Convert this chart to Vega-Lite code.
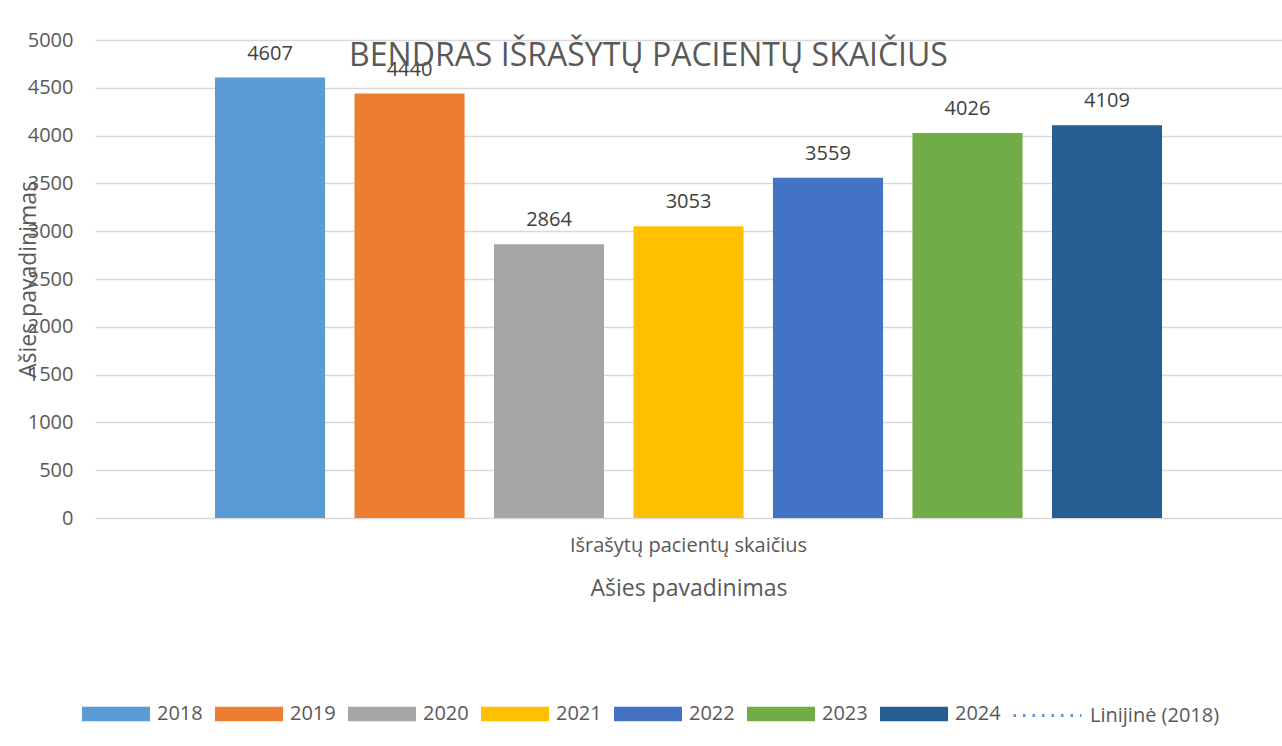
{
  "$schema": "https://vega.github.io/schema/vega-lite/v6.json",
  "autosize": "none",
  "width": 1187,
  "height": 478,
  "padding": {"left": 95, "top": 40, "right": 0, "bottom": 228},
  "background": "white",
  "config": {
    "font": "Open Sans",
    "view": {"stroke": null},
    "axis": {"labelColor": "#595959", "titleColor": "#595959", "labelFont": "Open Sans", "titleFont": "Open Sans", "titleFontWeight": "normal"},
    "legend": {"labelColor": "#595959", "labelFont": "Open Sans"}
  },
  "title": {
    "text": "BENDRAS IŠRAŠYTŲ PACIENTŲ SKAIČIUS",
    "fontSize": 32,
    "fontWeight": "normal",
    "color": "#595959",
    "anchor": "middle",
    "frame": "group",
    "dx": -40,
    "baseline": "alphabetic",
    "offset": -68
  },
  "data": {
    "values": [
      {"kategorija": "Išrašytų pacientų skaičius", "metai": "2018", "reiksme": 4607},
      {"kategorija": "Išrašytų pacientų skaičius", "metai": "2019", "reiksme": 4440},
      {"kategorija": "Išrašytų pacientų skaičius", "metai": "2020", "reiksme": 2864},
      {"kategorija": "Išrašytų pacientų skaičius", "metai": "2021", "reiksme": 3053},
      {"kategorija": "Išrašytų pacientų skaičius", "metai": "2022", "reiksme": 3559},
      {"kategorija": "Išrašytų pacientų skaičius", "metai": "2023", "reiksme": 4026},
      {"kategorija": "Išrašytų pacientų skaičius", "metai": "2024", "reiksme": 4109}
    ]
  },
  "encoding": {
    "x": {
      "field": "kategorija",
      "type": "nominal",
      "scale": {"paddingInner": 0, "paddingOuter": 0.1267},
      "axis": {
        "title": "Ašies pavadinimas",
        "titleFontSize": 23,
        "titleY": 70,
        "titleBaseline": "middle",
        "labelAngle": 0,
        "labelFontSize": 20,
        "labelPadding": 17,
        "labelLimit": 600,
        "domain": false,
        "ticks": false
      }
    },
    "xOffset": {
      "field": "metai",
      "type": "nominal",
      "scale": {"domain": ["2018", "2019", "2020", "2021", "2022", "2023", "2024"], "paddingInner": 0.211, "paddingOuter": 0}
    },
    "y": {
      "field": "reiksme",
      "type": "quantitative",
      "scale": {"domain": [0, 5000], "nice": false},
      "axis": {
        "title": "Ašies pavadinimas",
        "titleFontSize": 23,
        "titleX": -67,
        "titleY": 239,
        "titleAngle": 270,
        "titleAlign": "center",
        "titleBaseline": "middle",
        "values": [0, 500, 1000, 1500, 2000, 2500, 3000, 3500, 4000, 4500, 5000],
        "format": "d",
        "labelFontSize": 20,
        "labelPadding": 22,
        "gridColor": "#d9d9d9",
        "gridWidth": 1.3,
        "domain": false,
        "ticks": false
      }
    }
  },
  "layer": [
    {
      "mark": {"type": "bar"},
      "encoding": {
        "color": {
          "field": "metai",
          "type": "nominal",
          "scale": {
            "domain": ["2018", "2019", "2020", "2021", "2022", "2023", "2024"],
            "range": ["#5b9bd5", "#ed7d31", "#a5a5a5", "#ffc000", "#4472c4", "#70ad47", "#255e91"]
          },
          "legend": {
            "title": null,
            "orient": "none",
            "direction": "horizontal",
            "columns": 7,
            "legendX": -13,
            "legendY": 640,
            "padding": 0,
            "labelFontSize": 20,
            "labelOffset": 7,
            "columnPadding": 12,
            "symbolType": "M-1,-0.21H1V0.21H-1Z",
            "symbolSize": 4624,
            "symbolStrokeWidth": 0
          }
        }
      }
    },
    {
      "mark": {"type": "text", "dy": -18, "baseline": "alphabetic", "fontSize": 20, "color": "#404040"},
      "encoding": {
        "text": {"field": "reiksme", "type": "quantitative"}
      }
    },
    {
      "data": {
        "values": [
          {"kategorija": "Išrašytų pacientų skaičius", "metai": "2018", "reiksme": 4607, "tendencija": "Linijinė (2018)"}
        ]
      },
      "mark": {"type": "line", "color": "#5b9bd5", "strokeWidth": 3},
      "encoding": {
        "strokeDash": {
          "field": "tendencija",
          "type": "nominal",
          "scale": {"domain": ["Linijinė (2018)"], "range": [[2.5, 7]]},
          "legend": {
            "title": null,
            "orient": "none",
            "direction": "horizontal",
            "legendX": 917,
            "legendY": 640,
            "padding": 0,
            "labelFontSize": 20,
            "labelOffset": 7,
            "symbolType": "stroke",
            "symbolSize": 4624,
            "symbolStrokeWidth": 3,
            "symbolStrokeColor": "#5b9bd5"
          }
        }
      }
    }
  ]
}
